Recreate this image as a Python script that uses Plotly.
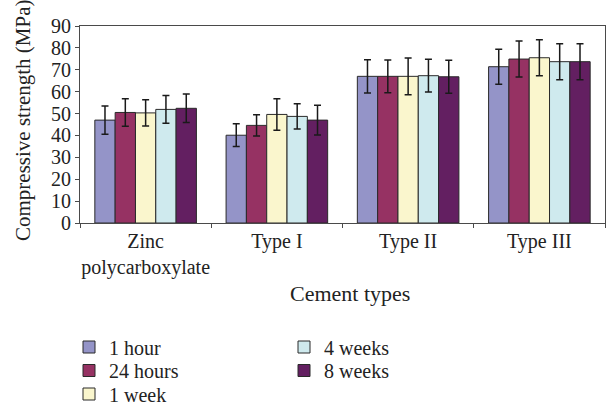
import plotly.graph_objects as go

# Cement types on the category axis
categories = ["Zinc<br>polycarboxylate", "Type I", "Type II", "Type III"]

# Mean compressive strength (MPa) per storage time
series_names = ["1 hour", "24 hours", "1 week", "4 weeks", "8 weeks"]
strength_1h = [47.0, 40.1, 67.0, 71.4]
strength_24h = [50.5, 44.6, 67.0, 74.9]
strength_1w = [50.3, 49.6, 67.0, 75.5]
strength_4w = [51.9, 48.7, 67.3, 73.7]
strength_8w = [52.4, 47.0, 66.8, 73.7]

# Standard deviations (MPa)
sd_1h = [6.5, 5.2, 7.6, 8.0]
sd_24h = [6.3, 4.9, 7.5, 8.2]
sd_1w = [6.0, 7.2, 8.4, 8.2]
sd_4w = [6.3, 5.8, 7.5, 8.2]
sd_8w = [6.5, 6.8, 7.5, 8.2]

colors = ["#9494c8", "#963263", "#faf6cd", "#cfeaee", "#631f61"]

values = [strength_1h, strength_24h, strength_1w, strength_4w, strength_8w]
errors = [sd_1h, sd_24h, sd_1w, sd_4w, sd_8w]

FONT = "Liberation Serif, Times New Roman, serif"
TEXT = "#222"
W, H = 608, 412
M_L, M_R, M_T, M_B = 80, 3, 26, 189
PLOT_W = W - M_L - M_R
PLOT_H = H - M_T - M_B

# Legend entries: two columns (3 + 2 rows), one legend box per entry
legend_ids = ["legend", "legend2", "legend3", "legend4", "legend5"]
legend_left = [69, 69, 69, 284, 284]
legend_top = [327.5, 351, 374.5, 327.5, 351]

fig = go.Figure()
for name, vals, errs, col, lg in zip(series_names, values, errors, colors, legend_ids):
    fig.add_trace(go.Bar(
        name=name,
        x=categories,
        y=vals,
        marker=dict(color=col, line=dict(color="#2a2a2a", width=1)),
        error_y=dict(type="data", array=errs, visible=True,
                     color="#1a1a1a", thickness=1.5, width=3.5),
        legend=lg,
    ))

legend_layout = {}
for lg, lx, ly in zip(legend_ids, legend_left, legend_top):
    legend_layout[lg] = dict(
        font=dict(family=FONT, size=20, color=TEXT),
        bgcolor="rgba(0,0,0,0)",
        orientation="v",
        xref="container", yref="container",
        x=lx / W, y=1 - ly / H,
        xanchor="left", yanchor="top",
        itemclick=False,
    )

# Axis titles placed as annotations (pixel offsets from the plot frame)
annotations = [
    dict(text="Compressive strength (MPa)", textangle=-90,
         xref="paper", yref="paper",
         x=(23 - M_L) / PLOT_W, y=(M_T + PLOT_H - 121) / PLOT_H,
         xanchor="center", yanchor="middle", showarrow=False,
         font=dict(family=FONT, size=21, color=TEXT)),
    dict(text="Cement types",
         xref="paper", yref="paper",
         x=(349.5 - M_L) / PLOT_W, y=-(293 - (M_T + PLOT_H)) / PLOT_H,
         xanchor="center", yanchor="middle", showarrow=False,
         font=dict(family=FONT, size=22, color=TEXT)),
]

fig.update_layout(
    width=W, height=H,
    margin=dict(l=M_L, r=M_R, t=M_T, b=M_B, autoexpand=False),
    paper_bgcolor="white",
    plot_bgcolor="white",
    barmode="group",
    bargap=0.226,
    bargroupgap=0,
    font=dict(family=FONT, size=20, color=TEXT),
    showlegend=True,
    annotations=annotations,
    **legend_layout,
    xaxis=dict(
        showline=True, linecolor="#4a4a4a", linewidth=1, mirror=True,
        ticks="outside", tickson="boundaries", ticklen=4, tickcolor="#4a4a4a",
        tickangle=0,
        tickfont=dict(family=FONT, size=20, color=TEXT),
        showgrid=False,
    ),
    yaxis=dict(
        range=[0, 90], dtick=10,
        showline=True, linecolor="#4a4a4a", linewidth=1, mirror=True,
        ticks="outside", ticklen=4, tickcolor="#4a4a4a",
        tickfont=dict(family=FONT, size=20, color=TEXT),
        showgrid=False, zeroline=False,
    ),
)

fig.write_html("out.html")
